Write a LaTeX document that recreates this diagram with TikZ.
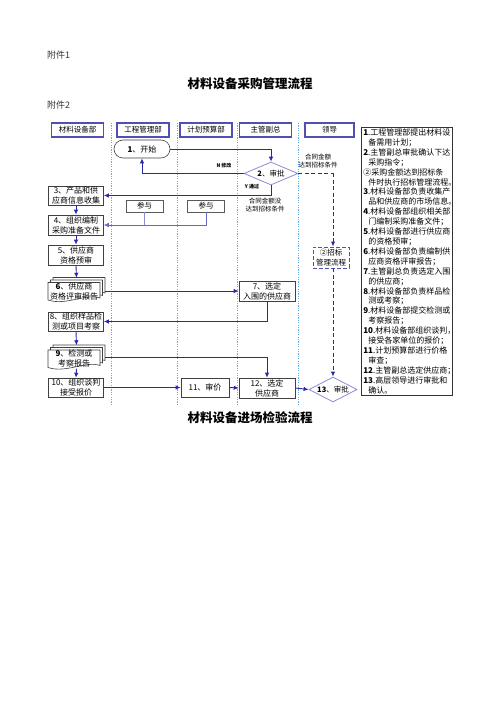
\documentclass[tikz,border=0pt]{standalone}
\usepackage{fontspec}
\setmainfont{Noto Sans CJK SC}
\usetikzlibrary{arrows.meta,calc,shapes.geometric}
\definecolor{flowblue}{RGB}{40,40,170}
\definecolor{headblue}{RGB}{80,80,180}
\definecolor{lanecyan}{RGB}{100,175,230}
\definecolor{lavender}{RGB}{140,140,215}
\tikzset{
    pagetext/.style={inner sep=0pt,text=black!80,font=\fontsize{9}{10}\selectfont},
    titletext/.style={inner sep=0pt,font=\fontsize{12.5}{14}\selectfont\bfseries},
    headbox/.style={draw=headblue,line width=1.1pt,fill=white,minimum width=52pt,minimum height=14pt,inner sep=0pt,font=\fontsize{7.5}{8}\selectfont},
    flowbox/.style={draw=black!75,line width=0.6pt,fill=white,minimum width=55pt,minimum height=19pt,inner sep=0pt,align=center,font=\fontsize{8}{10}\selectfont},
    startbox/.style={flowbox,rounded corners=9pt,minimum width=56pt,minimum height=18pt},
    joinbox/.style={draw=black!65,line width=0.6pt,fill=white,minimum width=37pt,minimum height=12pt,inner sep=0pt,font=\fontsize{7.5}{8}\selectfont},
    decision/.style={diamond,draw=lavender,line width=0.8pt,fill=white,aspect=2.3,inner sep=0pt,minimum width=54pt,minimum height=23pt,font=\fontsize{7.5}{8}\selectfont},
    tenderbox/.style={draw=headblue,line width=0.9pt,dash pattern=on 4pt off 2pt,fill=white,minimum width=36pt,minimum height=21pt,inner sep=0pt,align=center,font=\fontsize{7.5}{9.5}\selectfont},
    docline/.style={draw=black!75,line width=0.6pt,fill=white},
    docframe/.style={minimum width=57pt,minimum height=23pt,inner sep=0pt},
    doctext/.style={inner sep=0pt,align=center,font=\fontsize{8}{10}\selectfont},
    smalltext/.style={inner sep=0pt,align=center,font=\fontsize{6.5}{8}\selectfont},
    tinytext/.style={inner sep=0pt,font=\fontsize{5}{6}\selectfont\bfseries},
    notebox/.style={draw=black!80,line width=0.7pt,fill=white,text width=87pt,inner xsep=2pt,inner ysep=1.5pt,align=left,font=\fontsize{8}{9.9}\selectfont},
    laneline/.style={draw=lanecyan,line width=1pt,dash pattern=on 1.2pt off 1.2pt},
    conn/.style={draw=flowblue,line width=0.9pt,-{Latex[length=5pt,width=4.5pt]}},
    joinline/.style={draw=lavender,line width=0.6pt},
    tenderline/.style={draw=flowblue,line width=1pt,dash pattern=on 4pt off 2.5pt},
}
% stacked documents: name, x, y of the front sheet, text
\newcommand\docstack[4]{%
    \foreach \o in {5,2.5,0}{
        \draw[docline,shift={(\o,-\o)}] (#2-26,#3-9.5) -- (#2+26,#3-9.5) -- (#2+26,#3+6)
            .. controls (#2+12,#3+1) and (#2-8,#3+14) .. (#2-26,#3+8) -- cycle;
    }
    \node[docframe] (#1) at (#2+2.5,#3-2.5) {};
    \node[doctext] at (#2,#3-1) {#4};
}

\begin{document}
\begin{tikzpicture}[x=1pt,y=-1pt]
\useasboundingbox (0,0) rectangle (500,708);
% page texts
\node[pagetext,anchor=west] (att1) at (47,55) {附件1};
\node[titletext] (title1) at (250,84) {材料设备采购管理流程};
\node[pagetext,anchor=west] (att2) at (47,105) {附件2};
\node[titletext] (title2) at (250,418) {材料设备进场检验流程};

% lanes
\foreach \x in {111,177,237,298}
    \draw[laneline] (\x,123) -- (\x,405);
\node[headbox] (h1) at (77.5,130) {材料设备部};
\node[headbox] (h2) at (143,130) {工程管理部};
\node[headbox] (h3) at (206,130) {计划预算部};
\node[headbox] (h4) at (265.5,130) {主管副总};
\node[headbox,minimum width=49pt] (h5) at (329.5,130) {领导};

% steps
\node[startbox] (start) at (142,149) {\textbf{1}、开始};
\node[decision] (d2) at (271,173.5) {\textbf{2}、审批};
\node[flowbox] (n3) at (76,195.5) {3、产品和供\\应商信息收集};
\node[joinbox] (p1) at (144.5,206) {参与};
\node[joinbox] (p2) at (206,206) {参与};
\node[flowbox,minimum height=20pt] (n4) at (76,225) {4、组织编制\\采购准备文件};
\node[flowbox,minimum height=20pt] (n5) at (76,255) {5、供应商\\资格预审};
\docstack{d6}{74}{292}{\textbf{6}、供应商\\资格评审报告}
\node[flowbox,minimum width=56pt,minimum height=20pt] (n7) at (267,291) {7、选定\\入围的供应商};
\node[flowbox] (n8) at (76,321.5) {8、组织样品检\\测或项目考察};
\docstack{d9}{74}{359.5}{\textbf{9}、检测或\\考察报告}
\node[flowbox] (n10) at (76,387.5) {10、组织谈判\\接受报价};
\node[flowbox,minimum width=48pt] (n11) at (205,387.5) {11、审价};
\node[flowbox,minimum width=56pt,minimum height=20pt] (n12) at (267,388) {12、选定\\供应商};
\node[tenderbox] (zb) at (331,257.5) {②招标\\管理流程};
\node[decision,minimum width=48pt,minimum height=25pt] (d13) at (333,389.5) {\textbf{13}、审批};
\coordinate (c2) at (333,173.5);

% labels
\node[tinytext] (lN) at (224,166) {N 修改};
\node[tinytext] (lY) at (252,187) {Y 通过};
\node[smalltext] (lyes) at (318,161) {合同金额\\达到招标条件};
\node[smalltext] (lno) at (265,205) {合同金额没\\达到招标条件};

% connectors
\draw[conn] (start.east) -| (d2.north);
\draw[conn] (d2.west) -| (start.south);
\draw[conn] (d2.south) |- (n3.east);
\draw[joinline] (p1.south) -- (p1.south |- n4.east);
\draw[joinline,-{Latex[length=5pt,width=4.5pt]},draw=flowblue!70] (p2.south) |- (n4.east);
\draw[conn] (n3.south) -- (n4.north);
\draw[conn] (n4.south) -- (n5.north);
\draw[conn] (n5.south) -- (d6.north);
\draw[conn] (d6.east |- n7.west) -- (n7.west);
\draw[conn] (n7.south) |- (n8.east);
\draw[conn] (n8.south) -- (d9.north);
\draw[conn] (d9.east) -| (n12.north);
\draw[conn] (d9.south) -- (n10.north);
\draw[conn] (n10.east) -- (n11.west);
\draw[conn] (n11.east) -- (n12.west);
\draw[conn] (n12.east) -- (d13.west);
\draw[tenderline] (d2.east) -- (c2);
\draw[tenderline,-{Latex[length=5pt,width=4.5pt]}] (c2) -- (c2 |- zb.north);
\draw[tenderline,-{Latex[length=5pt,width=4.5pt]}] (zb.south -| c2) -- (d13.north);

% notes
\node[notebox,anchor=north west] (notes) at (361,127) {%
\textbf{1}.工程管理部提出材料设\\
\hspace*{5pt}备需用计划；\\
\textbf{2}.主管副总审批确认下达\\
\hspace*{5pt}采购指令；\\
②采购金额达到招标条\\
\hspace*{5pt}件时执行招标管理流程。\\
\textbf{3}.材料设备部负责收集产\\
\hspace*{5pt}品和供应商的市场信息。\\
\textbf{4}.材料设备部组织相关部\\
\hspace*{5pt}门编制采购准备文件；\\
\textbf{5}.材料设备部进行供应商\\
\hspace*{5pt}的资格预审；\\
\textbf{6}.材料设备部负责编制供\\
\hspace*{5pt}应商资格评审报告；\\
\textbf{7}.主管副总负责选定入围\\
\hspace*{5pt}的供应商；\\
\textbf{8}.材料设备部负责样品检\\
\hspace*{5pt}测或考察；\\
\textbf{9}.材料设备部提交检测或\\
\hspace*{5pt}考察报告；\\
\textbf{10}.材料设备部组织谈判，\\
\hspace*{5pt}接受各家单位的报价；\\
\textbf{11}.计划预算部进行价格\\
\hspace*{5pt}审查；\\
\textbf{12}.主管副总选定供应商；\\
\textbf{13}.高层领导进行审批和\\
\hspace*{5pt}确认。};
\end{tikzpicture}
\end{document}
